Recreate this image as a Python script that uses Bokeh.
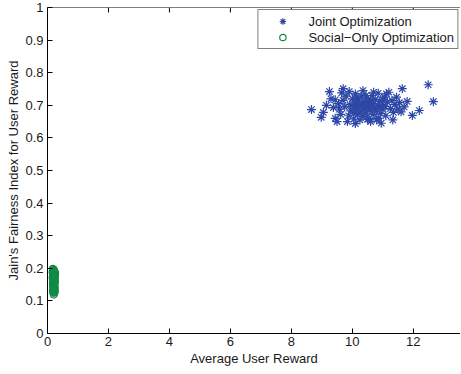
from bokeh.plotting import figure
from bokeh.models import FixedTicker, CustomJSTickFormatter, Range1d, Legend, LegendItem, Span
from bokeh.embed import file_html
from bokeh.resources import INLINE

# Joint Optimization (blue asterisks)
joint_x = [8.66, 8.98, 9.05, 9.25, 9.38, 9.44, 9.44, 9.70, 9.84, 9.55,
           9.62, 9.58, 9.70, 9.75, 9.80, 9.88, 9.92, 9.95, 10.00, 10.02,
           10.05, 10.08, 10.10, 10.12, 10.15, 10.18, 10.20, 10.22, 10.25, 10.28,
           10.30, 10.33, 10.35, 10.38, 10.40, 10.42, 10.45, 10.48, 10.50, 10.52,
           10.55, 10.58, 10.60, 10.62, 10.65, 10.68, 10.70, 10.72, 10.75, 10.78,
           10.80, 10.82, 10.85, 10.88, 10.90, 10.93, 10.95, 10.98, 11.00, 11.05,
           11.08, 11.10, 11.15, 11.20, 11.25, 11.30, 11.35, 11.40, 11.45, 11.50,
           11.55, 11.64, 11.70, 11.80, 11.97, 12.20, 12.49, 12.66, 9.15, 9.30,
           9.50, 9.65, 9.90, 10.35, 10.60, 10.85, 11.12, 11.33, 10.05, 10.45,
           11.60, 10.25, 11.00, 10.15, 10.70, 10.10, 10.50]
joint_y = [0.687, 0.663, 0.678, 0.742, 0.693, 0.717, 0.660, 0.751, 0.650, 0.705,
           0.672, 0.688, 0.715, 0.695, 0.728, 0.668, 0.702, 0.683, 0.720, 0.695,
           0.658, 0.710, 0.735, 0.686, 0.700, 0.672, 0.718, 0.692, 0.705, 0.680,
           0.728, 0.697, 0.665, 0.712, 0.688, 0.702, 0.676, 0.722, 0.694, 0.708,
           0.660, 0.685, 0.715, 0.698, 0.730, 0.672, 0.705, 0.690, 0.718, 0.682,
           0.655, 0.700, 0.737, 0.692, 0.712, 0.675, 0.645, 0.703, 0.688, 0.725,
           0.697, 0.668, 0.710, 0.740, 0.690, 0.715, 0.678, 0.702, 0.725, 0.688,
           0.708, 0.751, 0.695, 0.712, 0.669, 0.684, 0.763, 0.711, 0.700, 0.720,
           0.650, 0.738, 0.742, 0.745, 0.650, 0.660, 0.735, 0.655, 0.675, 0.730,
           0.680, 0.655, 0.718, 0.725, 0.740, 0.644, 0.657]

# Social-Only Optimization (green circles)
social_x = [0.19, 0.21, 0.23, 0.20, 0.18, 0.22, 0.24, 0.20, 0.21, 0.19,
            0.22, 0.25, 0.18, 0.20, 0.23, 0.21, 0.19, 0.22, 0.20, 0.24,
            0.17, 0.21, 0.23, 0.20, 0.22, 0.19, 0.21, 0.24, 0.18, 0.22,
            0.20, 0.23, 0.18, 0.21, 0.24, 0.19, 0.22, 0.20, 0.17, 0.23,
            0.21, 0.19, 0.24, 0.22, 0.18, 0.20, 0.23, 0.21, 0.19, 0.22]
social_y = [0.125, 0.132, 0.140, 0.145, 0.150, 0.155, 0.160, 0.165, 0.170, 0.175,
            0.180, 0.185, 0.190, 0.195, 0.128, 0.137, 0.148, 0.158, 0.168, 0.178,
            0.188, 0.142, 0.152, 0.162, 0.172, 0.182, 0.120, 0.135, 0.198, 0.165,
            0.130, 0.146, 0.154, 0.161, 0.176, 0.184, 0.192, 0.138, 0.171, 0.157,
            0.149, 0.143, 0.167, 0.179, 0.133, 0.186, 0.126, 0.174, 0.163, 0.191]

x_ticks = [0, 2, 4, 6, 8, 10, 12]
y_ticks = [0, 0.1, 0.2, 0.3, 0.4, 0.5, 0.6, 0.7, 0.8, 0.9, 1]

FONT = "Liberation Sans"
FS = "13px"
TXT = "#1a1a1a"
Y_MAX = 1

p = figure(width=460, height=372, output_backend="svg", toolbar_location=None,
           x_range=Range1d(0, 13.55), y_range=Range1d(0, Y_MAX),
           min_border_left=47, min_border_right=0, min_border_top=7, min_border_bottom=39,
           x_axis_label="Average User Reward",
           y_axis_label="Jain's Fairness Index for User Reward")
p.outline_line_color = None
p.xgrid.visible = False
p.ygrid.visible = False
p.background_fill_color = "white"
p.border_fill_color = "white"

fmt = CustomJSTickFormatter(code="return String(Number(tick.toFixed(2)));")

for ax in p.xaxis + p.yaxis:
    ax.major_tick_in = 5
    ax.major_tick_out = 0
    ax.minor_tick_line_color = None
    ax.axis_line_color = "black"
    ax.major_tick_line_color = "black"
    ax.major_label_text_font = FONT
    ax.major_label_text_font_size = FS
    ax.major_label_text_color = TXT
    ax.axis_label_text_font = FONT
    ax.axis_label_text_font_size = FS
    ax.axis_label_text_font_style = "normal"
    ax.axis_label_text_color = TXT
    ax.formatter = fmt

p.xaxis.ticker = FixedTicker(ticks=x_ticks)
p.yaxis.ticker = FixedTicker(ticks=y_ticks)
p.xaxis.major_label_standoff = 3
p.xaxis.axis_label_standoff = 2
p.yaxis.major_label_standoff = 4
p.yaxis.axis_label_standoff = 1

# top box edge with inward ticks (MATLAB style box)
p.add_layout(Span(location=Y_MAX, dimension="width", line_color="black", line_width=1))
tick_len = 5 / 326
p.segment(x0=x_ticks, y0=[Y_MAX] * len(x_ticks), x1=x_ticks,
          y1=[Y_MAX - tick_len] * len(x_ticks), line_color="black", line_width=1)

r1 = p.scatter(joint_x, joint_y, marker="asterisk", size=9, line_color="#2d47a6", line_width=1.2)
r2 = p.scatter(social_x, social_y, marker="circle", size=7, line_color="#138a47",
               fill_color=None, line_width=1.2)

legend = Legend(items=[LegendItem(label="Joint Optimization", renderers=[r1]),
                       LegendItem(label="Social\u2212Only Optimization", renderers=[r2])],
                location="top_right")
legend.margin = 2
legend.padding = 3
legend.spacing = 0
legend.label_height = 16
legend.glyph_height = 16
legend.glyph_width = 42
legend.label_standoff = 5
legend.label_text_font = FONT
legend.label_text_font_size = FS
legend.label_text_color = TXT
legend.border_line_color = "black"
legend.border_line_width = 1
legend.background_fill_color = "white"
legend.background_fill_alpha = 1
p.add_layout(legend, "center")

open("out.html", "w").write(file_html(p, INLINE))
